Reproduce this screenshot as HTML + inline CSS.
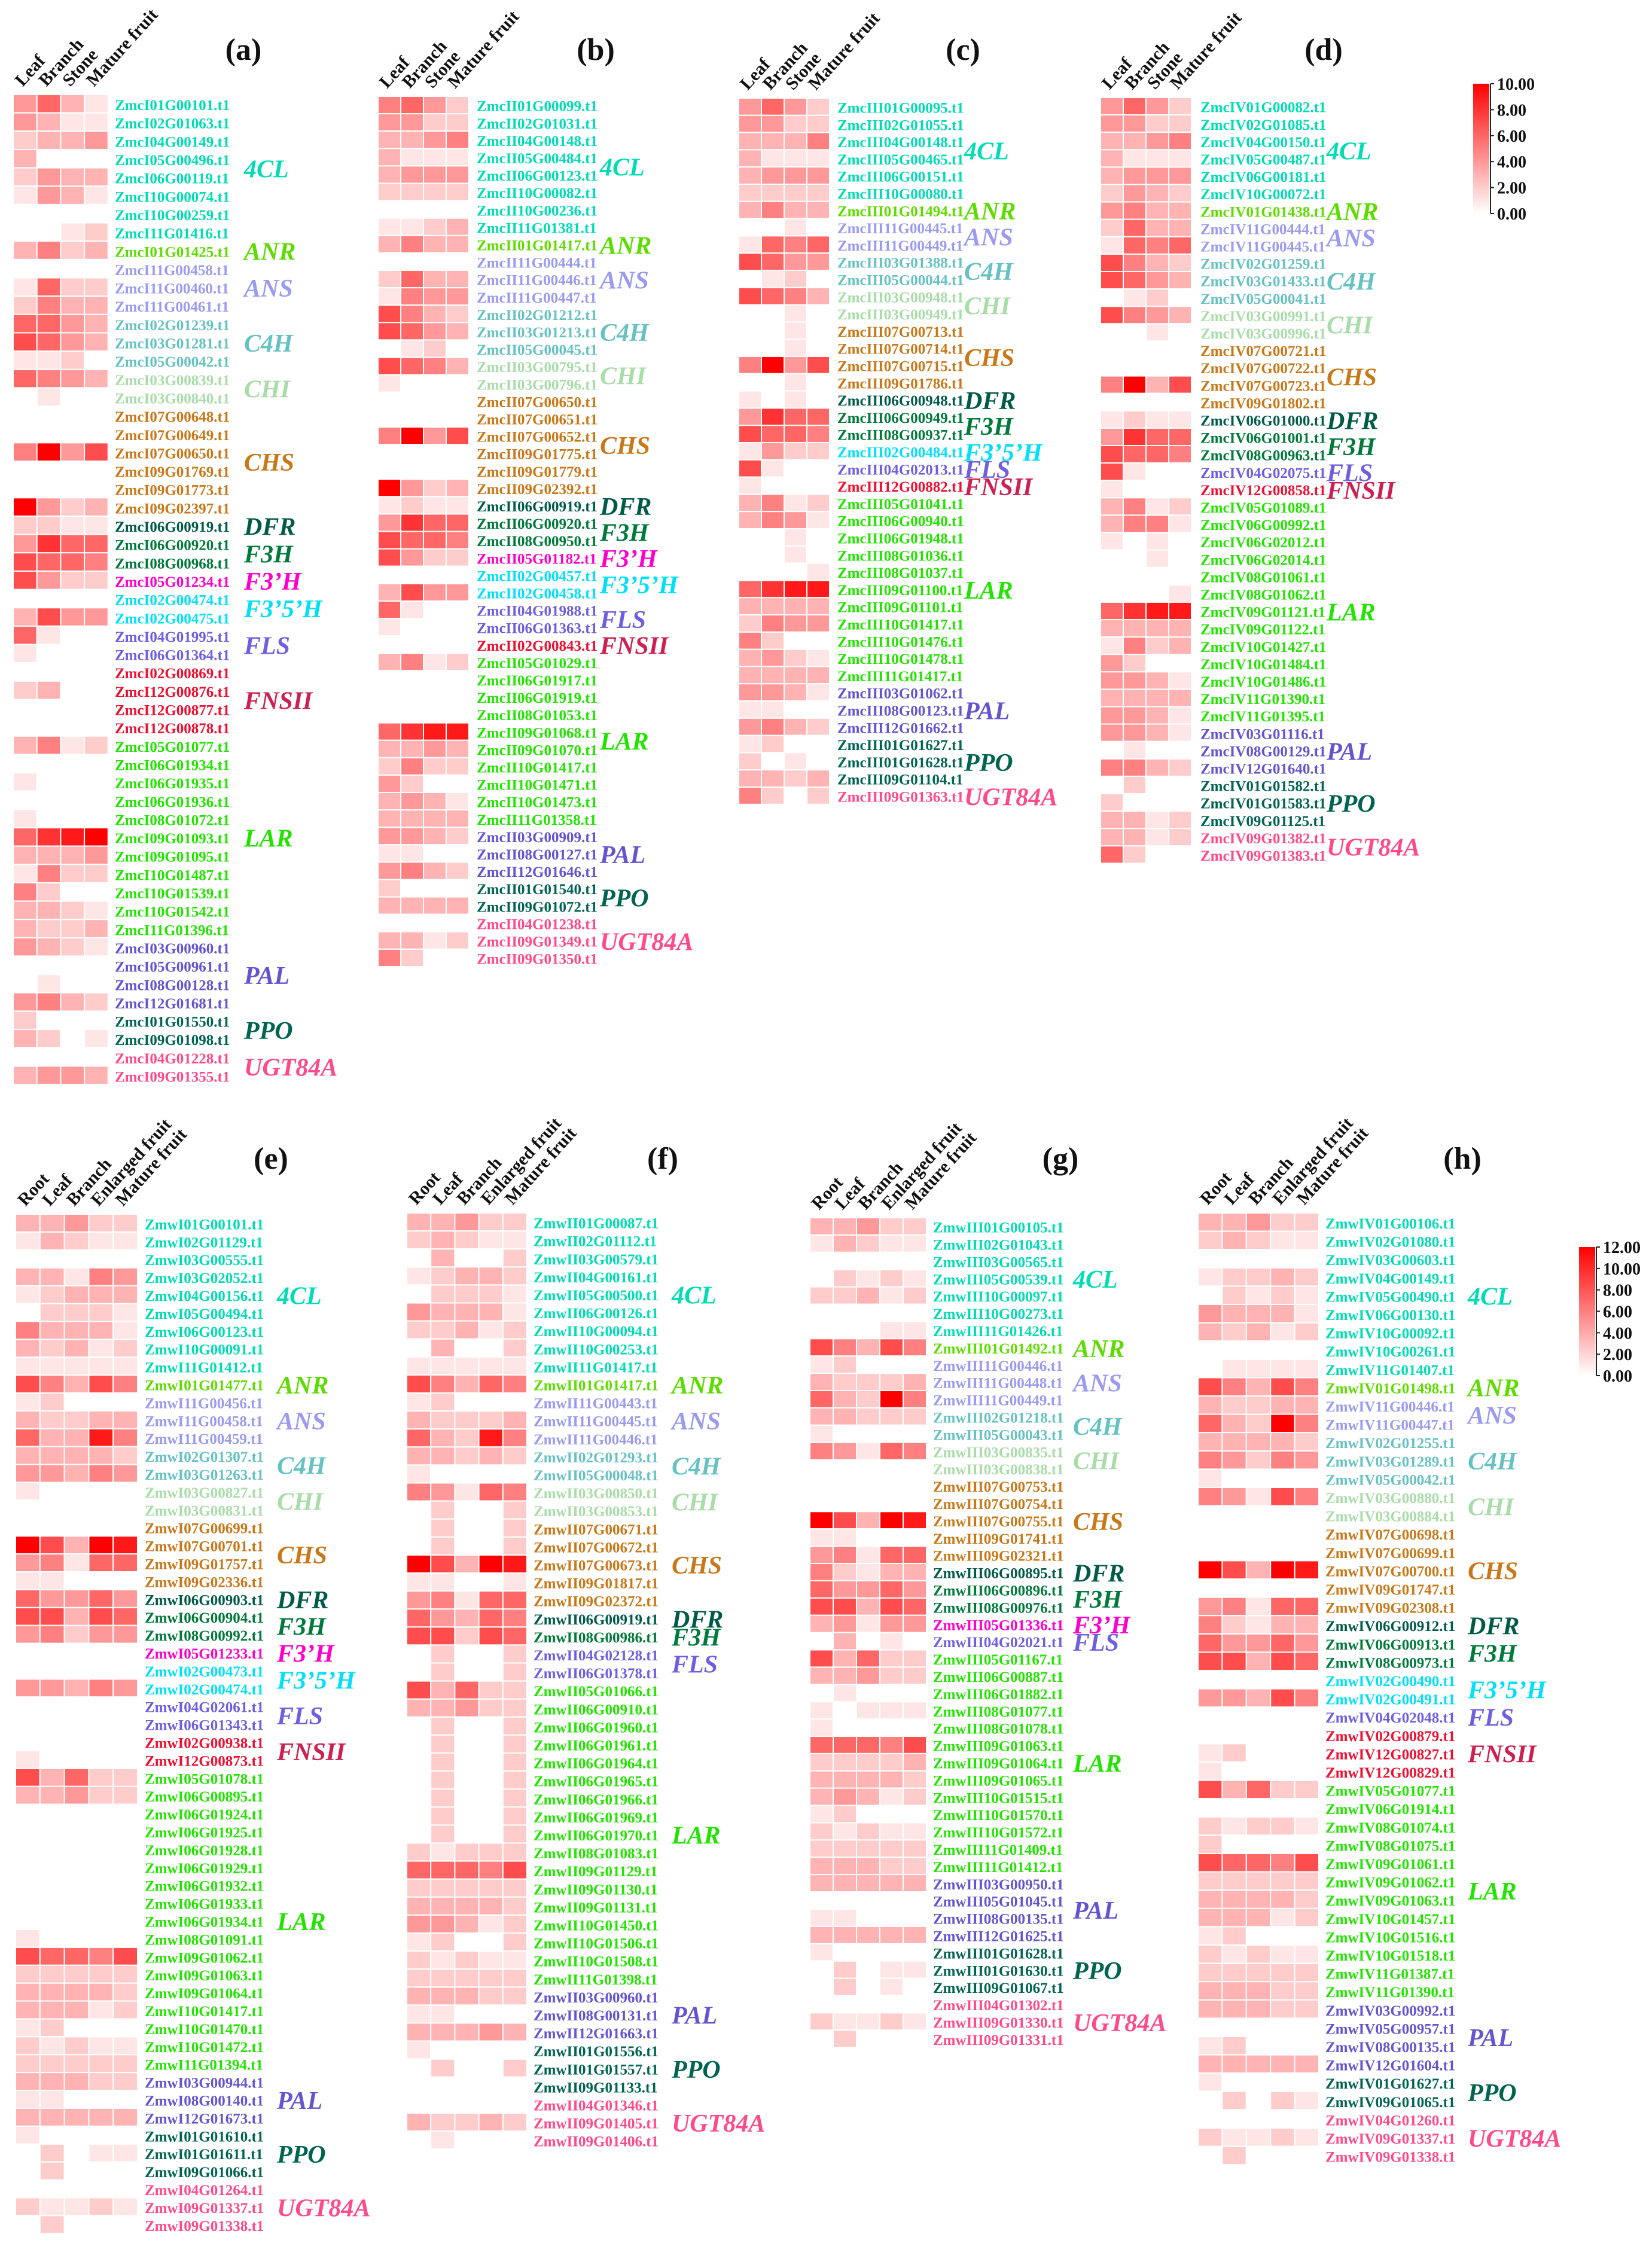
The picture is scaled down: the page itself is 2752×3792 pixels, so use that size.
<!DOCTYPE html>
<html><head><meta charset="utf-8">
<style>
html,body{margin:0;padding:0;background:#fff;}
svg{display:block;}
text{font-family:"Liberation Serif","DejaVu Serif",serif;}
</style></head>
<body>
<svg id="fig" xmlns="http://www.w3.org/2000/svg" width="2752" height="3792" viewBox="0 0 2752 3792"></svg>
<script>
// ---------- data ----------
const tissues4 = ["Leaf","Branch","Stone","Mature fruit"];
const tissues5 = ["Root","Leaf","Branch","Enlarged fruit","Mature fruit"];
const legendTicksTop = ["10.00","8.00","6.00","4.00","2.00","0.00"];
const legendTicksBottom = ["12.00","10.00","8.00","6.00","4.00","2.00","0.00"];

const genesA = ["01G00101","02G01063","04G00149","05G00496","06G00119","10G00074","10G00259","11G01416","01G01425","11G00458","11G00460","11G00461","02G01239","03G01281","05G00042","03G00839","03G00840","07G00648","07G00649","07G00650","09G01769","09G01773","09G02397","06G00919","06G00920","08G00968","05G01234","02G00474","02G00475","04G01995","06G01364","02G00869","12G00876","12G00877","12G00878","05G01077","06G01934","06G01935","06G01936","08G01072","09G01093","09G01095","10G01487","10G01539","10G01542","11G01396","03G00960","05G00961","08G00128","12G01681","01G01550","09G01098","04G01228","09G01355"];
const groupsA = [["4CL",8],["ANR",1],["ANS",3],["C4H",3],["CHI",2],["CHS",6],["DFR",1],["F3H",2],["F3'H",1],["F3'5'H",2],["FLS",2],["FNSII",4],["LAR",11],["PAL",4],["PPO",2],["UGT84A",2]];
const valsA = ["4631","4311","2334","3000","2433","1431","0000","0012","3523","0000","1622","2533","6643","7643","1120","6543","0100","0000","0000","5a47","0000","0000","a423","2211","4866","7665","7422","0000","3744","6100","1000","0000","2300","0000","0000","3512","0000","1000","0000","1000","689a","3334","1522","5200","3321","3223","4321","0000","0100","4532","2000","3201","0000","3443"];

const genesB = ["01G00099","02G01031","04G00148","05G00484","06G00123","10G00082","10G00236","11G01381","01G01417","11G00444","11G00446","11G00447","02G01212","03G01213","05G00045","03G00795","03G00796","07G00650","07G00651","07G00652","09G01775","09G01779","09G02392","06G00919","06G00920","08G00950","05G01182","02G00457","02G00458","04G01988","06G01363","02G00843","05G01029","06G01917","06G01919","08G01053","09G01068","09G01070","10G01417","10G01471","10G01473","11G01358","03G00909","08G00127","12G01646","01G01540","09G01072","04G01238","09G01349","09G01350"];
const groupsB = [["4CL",8],["ANR",1],["ANS",3],["C4H",3],["CHI",2],["CHS",6],["DFR",1],["F3H",2],["F3'H",1],["F3'5'H",2],["FLS",2],["FNSII",1],["LAR",10],["PAL",3],["PPO",2],["UGT84A",3]];
const valsB = ["5642","4422","3345","3111","3444","2222","0000","1123","3533","0000","2633","1544","7532","7643","0120","7653","1000","0000","0000","5a47","0000","0000","a423","1211","4866","7665","7422","0000","3744","6100","1000","0000","3512","0000","0000","0000","6899","3343","2522","4200","3431","3333","4432","1100","4532","2000","3333","0000","3312","5200"];

const genesC = ["01G00095","02G01055","04G00148","05G00465","06G00151","10G00080","01G01494","11G00445","11G00449","03G01388","05G00044","03G00948","03G00949","07G00713","07G00714","07G00715","09G01786","06G00948","06G00949","08G00937","02G00484","04G02013","12G00882","05G01041","06G00940","06G01948","08G01036","08G01037","09G01100","09G01101","10G01417","10G01476","10G01478","11G01417","03G01062","08G00123","12G01662","01G01627","01G01628","09G01104","09G01363"];
const groupsC = [["4CL",6],["ANR",1],["ANS",2],["C4H",2],["CHI",2],["CHS",4],["DFR",1],["F3H",2],["F3'5'H",1],["FLS",1],["FNSII",1],["LAR",11],["PAL",3],["PPO",3],["UGT84A",1]];
const valsC = ["4642","4422","3335","3111","3444","2222","3533","0010","1656","7644","0120","7653","0010","0010","0010","5a47","0010","1010","4866","7665","1422","7100","1000","3512","3541","0010","0010","0001","6899","3333","2544","5200","3421","3333","4431","1100","4532","1200","2010","3323","5202"];

const genesD = ["01G00082","02G01085","04G00150","05G00487","06G00181","10G00072","01G01438","11G00444","11G00445","02G01259","03G01433","05G00041","03G00991","03G00996","07G00721","07G00722","07G00723","09G01802","06G01000","06G01001","08G00963","04G02075","12G00858","05G01089","06G00992","06G02012","06G02014","08G01061","08G01062","09G01121","09G01122","10G01427","10G01484","10G01486","11G01390","11G01395","03G01116","08G00129","12G01640","01G01582","01G01583","09G01125","09G01382","09G01383"];
const groupsD = [["4CL",6],["ANR",1],["ANS",2],["C4H",3],["CHI",2],["CHS",4],["DFR",1],["F3H",2],["FLS",1],["FNSII",1],["LAR",13],["PAL",3],["PPO",3],["UGT84A",2]];
const valsD = ["4642","4422","3345","3111","3444","2432","4533","2633","1656","7532","7643","0120","7543","0010","0000","0000","5a37","0000","1211","4866","7665","7100","1000","3512","3551","1010","0010","0000","0001","6899","3333","1523","4200","4431","3333","4431","4431","0100","5532","0200","2000","3312","3312","6200"];

const genesE = ["01G00101","02G01129","03G00555","03G02052","04G00156","05G00494","06G00123","10G00091","11G01412","01G01477","11G00456","11G00458","11G00459","02G01307","03G01263","03G00827","03G00831","07G00699","07G00701","09G01757","09G02336","06G00903","06G00904","08G00992","05G01233","02G00473","02G00474","04G02061","06G01343","02G00938","12G00873","05G01078","06G00895","06G01924","06G01925","06G01928","06G01929","06G01932","06G01933","06G01934","08G01091","09G01062","09G01063","09G01064","10G01417","10G01470","10G01472","11G01394","03G00944","08G00140","12G01673","01G01610","01G01611","09G01066","04G01264","09G01337","09G01338"];
const groupsE = [["4CL",9],["ANR",1],["ANS",3],["C4H",2],["CHI",2],["CHS",4],["DFR",1],["F3H",2],["F3'H",1],["F3'5'H",2],["FLS",2],["FNSII",2],["LAR",17],["PAL",3],["PPO",3],["UGT84A",3]];
const valsE = ["33422","13211","00000","33154","12333","02221","53331","32312","11111","75375","12000","32233","63395","33332","44354","10000","00000","00000","a73a9","45166","11000","64464","77376","45244","00000","00000","44354","00000","00000","00000","10000","73622","33422","00000","00000","00000","00000","00000","00000","00000","10000","76657","22222","33332","33312","12000","21211","22222","33322","11000","33333","10000","02011","02000","00000","21121","02000"];

const genesF = ["01G00087","02G01112","03G00579","04G00161","05G00500","06G00126","10G00094","10G00253","11G01417","01G01417","11G00443","11G00445","11G00446","02G01293","05G00048","03G00850","03G00853","07G00671","07G00672","07G00673","09G01817","09G02372","06G00919","08G00986","04G02128","06G01378","05G01066","06G00910","06G01960","06G01961","06G01964","06G01965","06G01966","06G01969","06G01970","08G01083","09G01129","09G01130","09G01131","10G01450","10G01506","10G01508","11G01398","03G00960","08G00131","12G01663","01G01556","01G01557","09G01133","04G01346","09G01405","09G01406"];
const groupsF = [["4CL",9],["ANR",1],["ANS",3],["C4H",2],["CHI",2],["CHS",5],["DFR",1],["F3H",1],["FLS",2],["LAR",17],["PAL",3],["PPO",3],["UGT84A",3]];
const valsF = ["33422","23211","03002","12332","02221","43331","22312","03002","11111","75365","12000","32223","63295","33232","10000","54165","02002","02002","02002","a73a9","11001","45166","64365","77276","02002","02002","73622","33422","02002","02002","02002","02002","02002","02002","02002","21222","66657","22222","33332","44312","12002","21211","22222","33322","11000","33343","10000","02002","00000","00000","32232","01000"];

const genesG = ["01G00105","02G01043","03G00565","05G00539","10G00097","10G00273","11G01426","01G01492","11G00446","11G00448","11G00449","02G01218","05G00043","03G00835","03G00838","07G00753","07G00754","07G00755","09G01741","09G02321","06G00895","06G00896","08G00976","05G01336","04G02021","05G01167","06G00887","06G01882","08G01077","08G01078","09G01063","09G01064","09G01065","10G01515","10G01570","10G01572","11G01409","11G01412","03G00950","05G01045","08G00135","12G01625","01G01628","01G01630","09G01067","04G01302","09G01330","09G01331"];
const groupsG = [["4CL",7],["ANR",1],["ANS",3],["C4H",2],["CHI",2],["CHS",5],["DFR",1],["F3H",2],["F3'H",1],["FLS",1],["LAR",13],["PAL",4],["PPO",3],["UGT84A",3]];
const valsG = ["33422","13211","00000","02121","22312","00000","00011","75375","12000","32223","632a5","33222","10000","54165","00000","00000","00000","a73a9","11000","45166","52133","64464","77376","34144","03010","73622","33422","01000","10111","10000","66657","22223","33332","34312","12000","21211","22222","33322","33333","00000","11000","33333","10000","02011","02010","00000","21121","02000"];

const genesH = ["01G00106","02G01080","03G00603","04G00149","05G00490","06G00130","10G00092","10G00261","11G01407","01G01498","11G00446","11G00447","02G01255","03G01289","05G00042","03G00880","03G00884","07G00698","07G00699","07G00700","09G01747","09G02308","06G00912","06G00913","08G00973","02G00490","02G00491","04G02048","02G00879","12G00827","12G00829","05G01077","06G01914","08G01074","08G01075","09G01061","09G01062","09G01063","10G01457","10G01516","10G01518","11G01387","11G01390","03G00992","05G00957","08G00135","12G01604","01G01627","09G01065","04G01260","09G01337","09G01338"];
const groupsH = [["4CL",9],["ANR",1],["ANS",2],["C4H",3],["CHI",2],["CHS",5],["DFR",1],["F3H",2],["F3'5'H",2],["FLS",1],["FNSII",3],["LAR",12],["PAL",4],["PPO",2],["UGT84A",3]];
const valsH = ["33422","23211","00000","12232","02121","43331","32312","00000","01111","75375","32233","632a5","33332","54254","10000","54175","00000","00000","00000","a73a9","00000","45166","52133","64464","77376","00000","44375","00000","00000","12000","10000","73622","00000","21221","20000","76657","22222","33332","33312","12000","21211","22222","33322","33322","00000","12000","33333","10000","02021","00000","21121","02000"];

// ---------- style ----------
const groupColor = {"4CL":"#00dcb4","ANR":"#5edc00","ANS":"#9a9af0","C4H":"#66c2c2","CHI":"#a8dca8","CHS":"#c87818","DFR":"#005a48","F3H":"#007a3a","F3'H":"#ff00cc","F3'5'H":"#00e0f8","FLS":"#6e5ee0","FNSII":"#ee1030","LAR":"#22e400","PAL":"#6454d0","PPO":"#006452","UGT84A":"#ff4a8a"};
const catColor = Object.assign({}, groupColor, {"FNSII":"#cc2050"});
const catLabel = {"F3'H":"F3\u2019H","F3'5'H":"F3\u20195\u2019H"};

const panels = [
 {id:"a",prefix:"ZmcI",genes:genesA,vals:valsA,groups:groupsA,cols:tissues4,x:22,cw:39.7,top:158,rh:30.65,gx:192,cx:408,tx:407,ty:100},
 {id:"b",prefix:"ZmcII",genes:genesB,vals:valsB,groups:groupsB,cols:tissues4,x:632,cw:38,top:161,rh:29.1,gx:797,cx:1003,tx:996,ty:100},
 {id:"c",prefix:"ZmcIII",genes:genesC,vals:valsC,groups:groupsC,cols:tissues4,x:1235,cw:38,top:164,rh:28.8,gx:1400,cx:1612,tx:1610,ty:100},
 {id:"d",prefix:"ZmcIV",genes:genesD,vals:valsD,groups:groupsD,cols:tissues4,x:1840,cw:38,top:163,rh:29.1,gx:2007,cx:2218,tx:2213,ty:100},
 {id:"e",prefix:"ZmwI",genes:genesE,vals:valsE,groups:groupsE,cols:tissues5,x:26,cw:40.8,top:2030,rh:29.9,gx:242,cx:463,tx:453,ty:1954},
 {id:"f",prefix:"ZmwII",genes:genesF,vals:valsF,groups:groupsF,cols:tissues5,x:680,cw:40.2,top:2028,rh:30.1,gx:892,cx:1123,tx:1108,ty:1954},
 {id:"g",prefix:"ZmwIII",genes:genesG,vals:valsG,groups:groupsG,cols:tissues5,x:1354,cw:39,top:2036,rh:28.9,gx:1560,cx:1794,tx:1773,ty:1954},
 {id:"h",prefix:"ZmwIV",genes:genesH,vals:valsH,groups:groupsH,cols:tissues5,x:2003,cw:40.4,top:2028,rh:30.6,gx:2216,cx:2454,tx:2445,ty:1954}
];

const NS = "http://www.w3.org/2000/svg";
const svg = document.getElementById("fig");
function mk(tag, attrs, parent){ const e=document.createElementNS(NS,tag); for(const k in attrs) e.setAttribute(k,attrs[k]); (parent||svg).appendChild(e); return e; }
const vmax = 10;
function color(v){ const t=Math.max(0,Math.min(1,v/vmax)); const g=Math.round(255*(1-t)); return `rgb(255,${g},${g})`; }
function parseVal(ch){ return ch==="a"?10:Number(ch); }

panels.forEach(p=>{
  const g = mk("g",{});
  
  
  const xS = i => p.x + i*p.cw;
  const yS = r => p.top + r*p.rh;
  // title
  const t = mk("text",{x:p.tx,y:p.ty,"font-size":52,"font-weight":"bold","text-anchor":"middle",fill:"#111"},g);
  t.textContent = "("+p.id+")";
  
  
  // column headers
  p.cols.forEach((c,i)=>{
    const cx = xS(i)+p.cw/2-4, cy = p.top-12;
    const ct = mk("text",{x:cx,y:cy,"font-size":30,"font-weight":"bold",fill:"#111",transform:`rotate(-48 ${cx} ${cy})`},g);
    ct.textContent = c;
    
    
  });
  // cells + gene labels
  let gi = 0, rowGroup = [];
  p.groups.forEach(([name,n])=>{ for(let k=0;k<n;k++) rowGroup.push(name); });
  p.genes.forEach((gene,r)=>{
    const row = p.vals[r] || "";
    for(let i=0;i<p.cols.length;i++){
      const v = parseVal(row[i]||"0");
      const rc = mk("rect",{x:xS(i),y:yS(r),width:p.cw,height:p.rh,fill:color(v),stroke:"#fff","stroke-width":2},g);
      
      
    }
    const grp = rowGroup[r] || "LAR";
    const lt = mk("text",{x:p.gx,y:yS(r)+p.rh*0.85,"font-size":25,"font-weight":"bold",fill:groupColor[grp]},g);
    lt.textContent = p.prefix+gene+".t1";
    
    
  });
  // group labels
  let start = 0;
  p.groups.forEach(([name,n])=>{
    const mid = yS(start + n/2) + 16;
    const cl = mk("text",{x:p.cx,y:mid,"font-size":42,"font-weight":"bold","font-style":"italic",fill:catColor[name]},g);
    cl.textContent = catLabel[name]||name;
    
    
    start += n;
  });
});

// legends
function legend(id,x,y0,y1,ticks){
  const g = mk("g",{});
  
  
  const defs = mk("defs",{},g);
  const lg = mk("linearGradient",{id:"lg"+id,x1:0,y1:0,x2:0,y2:1},defs);
  mk("stop",{offset:"0","stop-color":"#ff0000"},lg);
  mk("stop",{offset:"1","stop-color":"#ffffff"},lg);
  const bar = mk("rect",{x:x,y:y0,width:27,height:y1-y0,fill:`url(#lg${id})`},g);
  
  
  mk("line",{x1:x+29,y1:y0,x2:x+29,y2:y1,stroke:"#222","stroke-width":2},g);
  ticks.forEach((lab,i)=>{
    const yy = y0 + i*(y1-y0)/(ticks.length-1);
    mk("line",{x1:x+29,y1:yy,x2:x+35,y2:yy,stroke:"#222","stroke-width":2},g);
    const tt = mk("text",{x:x+40,y:yy+10,"font-size":28,"font-weight":"bold",fill:"#111"},g);
    tt.textContent = lab;
    
    
  });
}
legend("top",2463,140,357,legendTicksTop);
legend("bottom",2640,2085,2300,legendTicksBottom);
</script>
</body></html>
